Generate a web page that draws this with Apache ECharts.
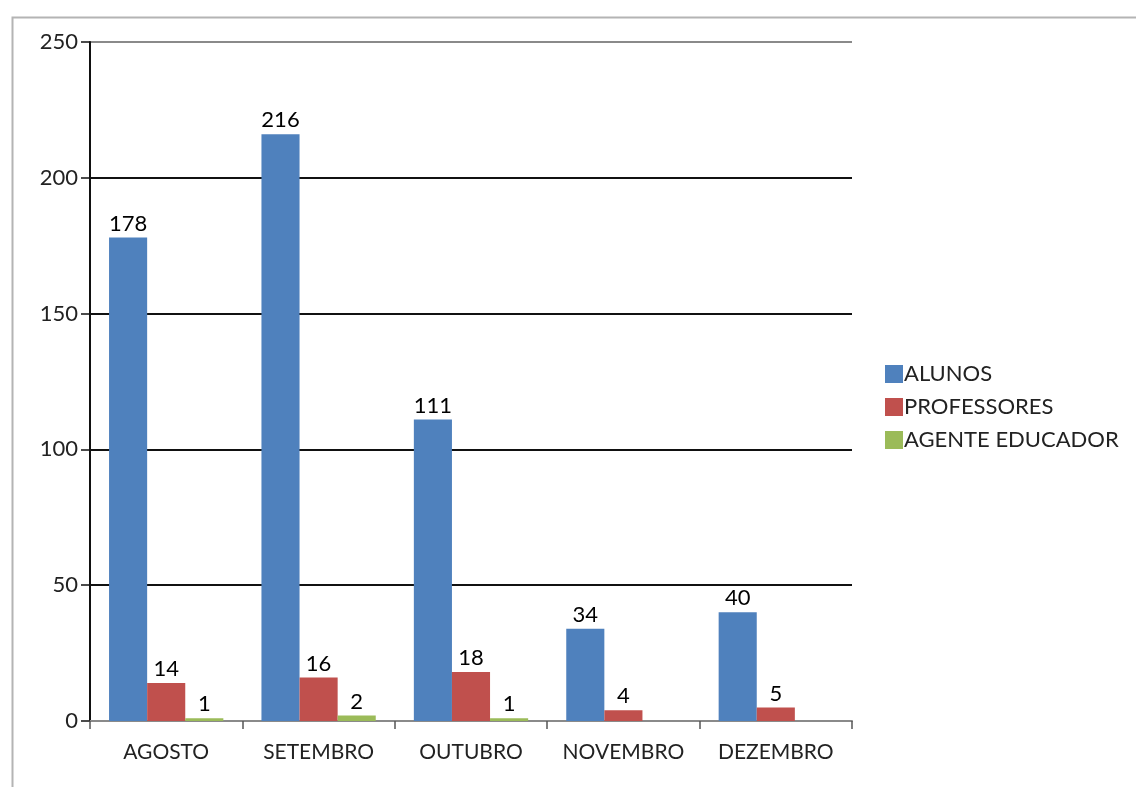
<!DOCTYPE html>
<html lang="pt-BR">
<head>
  <meta charset="utf-8" />
  <title>Atendimentos</title>
  <style>
    html, body { margin: 0; padding: 0; background: #fff; }
    #chart { width: 1136px; height: 787px; }
  </style>
</head>
<body>
  <div id="chart"></div>
  <script src="https://cdn.jsdelivr.net/npm/echarts@6/dist/echarts.min.js"></script>
  <script>
    "use strict";

    var meses = ['AGOSTO', 'SETEMBRO', 'OUTUBRO', 'NOVEMBRO', 'DEZEMBRO'];
    var alunos = [178, 216, 111, 34, 40];
    var professores = [14, 16, 18, 4, 5];
    var agentes = [1, 2, 1, 0, 0];

    var fonte = 'Lato, "Open Sans", sans-serif';

    var rotulo = {
      show: true,
      position: 'top',
      distance: 3,
      color: '#000',
      fontSize: 22,
      fontFamily: fonte,
      formatter: function (p) {
        return p.value ? String(p.value) : '';
      }
    };

    function serie(nome, cor, dados) {
      return {
        name: nome,
        type: 'bar',
        data: dados,
        barGap: '0%',
        barCategoryGap: '25%',
        itemStyle: { color: cor },
        label: rotulo
      };
    }

    var myChart = echarts.init(document.getElementById('chart'));

    var option = {
      animation: false,
      backgroundColor: '#fff',
      textStyle: { fontFamily: fonte },
      graphic: [{
        type: 'rect',
        left: 10,
        top: 15,
        shape: { width: 1300, height: 900 },
        style: { fill: 'none', stroke: '#b4b4b4', lineWidth: 2 },
        z: -10
      }],
      grid: { left: 90, right: 284, top: 42, bottom: 66 },
      legend: {
        orient: 'vertical',
        left: 880,
        top: 358,
        itemWidth: 18,
        itemHeight: 18,
        itemGap: 11,
        icon: 'rect',
        textStyle: { fontSize: 22, color: '#222', fontFamily: fonte, padding: [0, 0, 0, -4] },
        data: ['ALUNOS', 'PROFESSORES', 'AGENTE EDUCADOR']
      },
      xAxis: {
        type: 'category',
        data: meses,
        axisLine: { lineStyle: { color: '#8a8a8a', width: 2 } },
        axisTick: { show: true, length: 8, lineStyle: { color: '#555', width: 1.5 } },
        axisLabel: { interval: 0, fontSize: 21, color: '#222', margin: 21, fontFamily: fonte },
        splitLine: { show: false }
      },
      yAxis: {
        type: 'value',
        min: 0,
        max: 250,
        interval: 50,
        axisLine: { show: true, lineStyle: { color: '#111', width: 2 } },
        axisTick: { show: true, length: 9, lineStyle: { color: '#111', width: 1.5 } },
        axisLabel: { fontSize: 22, color: '#222', margin: 12, fontFamily: fonte },
        splitLine: {
          show: true,
          lineStyle: {
            color: ['#8a8a8a', '#111', '#111', '#111', '#111', '#8a8a8a'],
            width: 2
          }
        }
      },
      series: [
        serie('ALUNOS', '#4f81bd', alunos),
        serie('PROFESSORES', '#c0504d', professores),
        serie('AGENTE EDUCADOR', '#9bbb59', agentes)
      ]
    };

    myChart.setOption(option);
  </script>
</body>
</html>
